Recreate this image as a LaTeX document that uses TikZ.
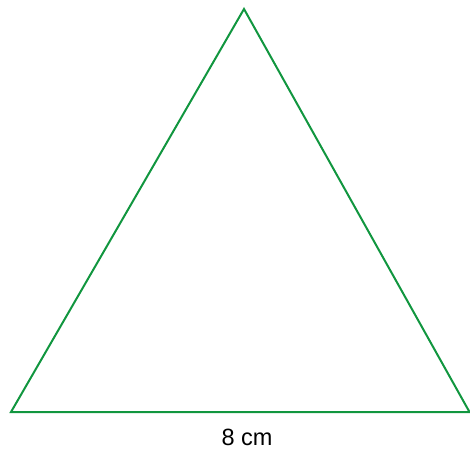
\documentclass[tikz,border=0pt]{standalone}
\usepackage{fontspec}
\setmainfont{Liberation Sans}
\usetikzlibrary{positioning}
\definecolor{trigreen}{HTML}{11963F}

\begin{document}
\begin{tikzpicture}[x=1pt, y=-1pt, line width=2pt]

% Canvas
\useasboundingbox (0,0) rectangle (470,449);

% Vertices
\coordinate (A) at (11,412);
\coordinate (B) at (469.5,412);
\coordinate (C) at (244,9);

% Triangle
\draw[trigreen, line join=miter] (A) -- (B) -- (C) -- cycle;

% Base label
\node[font=\fontsize{23.5}{26}\selectfont] (base) at (247,437) {8 cm};

\end{tikzpicture}
\end{document}
